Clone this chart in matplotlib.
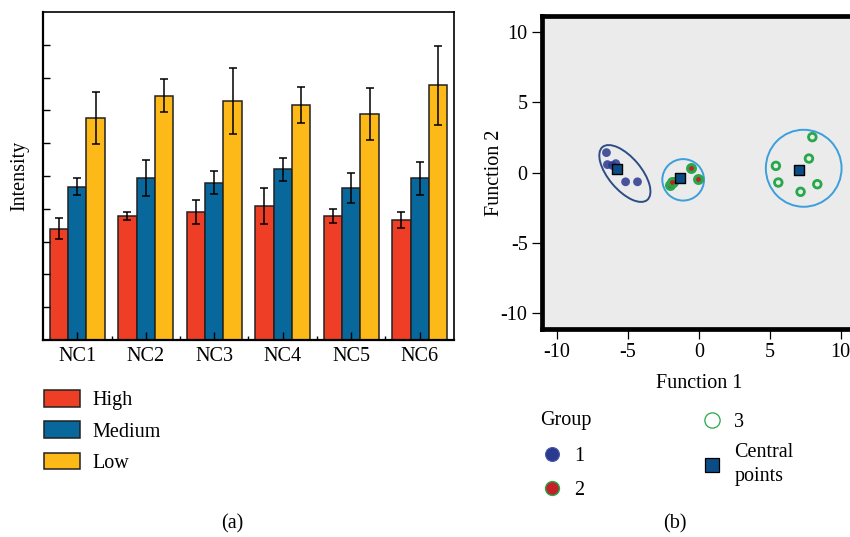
import matplotlib
matplotlib.use("Agg")
import matplotlib.pyplot as plt
import numpy as np
from matplotlib.patches import Ellipse, Patch
from matplotlib.lines import Line2D

plt.rcParams['font.family'] = ['Liberation Serif', 'DejaVu Serif']
plt.rcParams['axes.unicode_minus'] = False

W, H = 850, 537
FS = 14.5

# ---- panel (a) data ----
samples = ["NC1", "NC2", "NC3", "NC4", "NC5", "NC6"]
high = [3.39, 3.78, 3.90, 4.09, 3.78, 3.65]
high_err = [0.32, 0.13, 0.36, 0.55, 0.20, 0.25]
medium = [4.67, 4.94, 4.79, 5.21, 4.63, 4.93]
medium_err = [0.26, 0.55, 0.35, 0.35, 0.45, 0.50]
low = [6.77, 7.45, 7.29, 7.16, 6.89, 7.76]
low_err = [0.80, 0.50, 1.00, 0.55, 0.80, 1.20]

# ---- panel (b) data ----
g1_x = [-6.52, -6.45, -6.10, -5.86, -5.17, -4.33]
g1_y = [1.41, 0.56, 0.50, 0.63, -0.66, -0.66]
g2_x = [-0.56, -0.07, -1.81, -2.05, -1.90]
g2_y = [0.33, -0.45, -0.66, -0.90, -0.70]
g3_x = [8.00, 7.76, 5.43, 5.60, 7.17, 8.35]
g3_y = [2.51, 0.99, 0.47, -0.71, -1.37, -0.83]
cent_x = [-5.76, -1.34, 7.06]
cent_y = [0.28, -0.42, 0.16]

RED = "#ef3e26"
BLUE = "#08679b"
YEL = "#fdb917"
NAVY = "#2a3a8f"
GREEN = "#27a84a"
GRED = "#c4202a"
SQ = "#0c4c86"

fig = plt.figure(figsize=(W / 100, H / 100), dpi=100)


def box(l, t, r, b):
    return [l / W, 1 - b / H, (r - l) / W, (b - t) / H]


# ---------------- (a) bars ----------------
ax = fig.add_axes(box(43, 12, 454, 340))
x = np.arange(len(samples))
bw = 0.27
ekw = dict(ecolor="black", elinewidth=1.1, capsize=3, capthick=1.1)
ax.bar(x - bw, high, bw, yerr=high_err, color=RED, edgecolor="#222222", linewidth=1.1, error_kw=ekw)
ax.bar(x, medium, bw, yerr=medium_err, color=BLUE, edgecolor="#222222", linewidth=1.1, error_kw=ekw)
ax.bar(x + bw, low, bw, yerr=low_err, color=YEL, edgecolor="#222222", linewidth=1.1, error_kw=ekw)
ax.set_xlim(-0.5, 5.5)
ax.set_ylim(0, 10)
ax.set_xticks(x)
ax.set_xticklabels(samples, fontsize=FS)
ax.set_xticks(x[:-1] + 0.5, minor=True)
ax.set_yticks(np.arange(1, 10))
ax.set_yticklabels([])
ax.tick_params(axis="both", direction="in", length=5, width=1, pad=5)
ax.tick_params(axis="x", which="minor", direction="in", length=3, width=1)
ax.tick_params(axis="x", which="major", length=6)
for s in ax.spines.values():
    s.set_linewidth(1.2)
ax.spines["left"].set_linewidth(1.6)
ax.spines["bottom"].set_linewidth(1.6)
ax.set_ylabel("Intensity", fontsize=FS, labelpad=5)

handles = [Patch(facecolor=c, edgecolor="#222222", linewidth=1.1) for c in (RED, BLUE, YEL)]
fig.legend(handles, ["High", "Medium", "Low"], loc="upper left",
           bbox_to_anchor=(44 / W, 1 - 390 / H), frameon=False, fontsize=FS,
           handlelength=1.8, handleheight=0.9, handletextpad=0.6,
           labelspacing=0.55, borderpad=0, borderaxespad=0)

# ---------------- (b) scatter ----------------
bx = fig.add_axes(box(541.5, 16, 856.3, 329))
bx.set_facecolor("#ebebeb")
lim = 11.1
bx.set_xlim(-lim, lim)
bx.set_ylim(-lim, lim)
for s in bx.spines.values():
    s.set_linewidth(3.4)
    s.set_color("black")
bx.set_xticks([-10, -5, 0, 5, 10])
bx.set_yticks([-10, -5, 0, 5, 10])
bx.tick_params(axis="both", direction="out", length=7, width=0.9, labelsize=FS, pad=3)

bx.add_patch(Ellipse((-5.22, -0.07), 4.9, 2.3, angle=-50, fill=False,
                     edgecolor="#2c4d86", linewidth=1.4))
bx.add_patch(Ellipse((-1.11, -0.52), 2.94, 2.94, fill=False,
                     edgecolor="#3a9fdc", linewidth=1.4))
bx.add_patch(Ellipse((7.39, 0.30), 5.34, 5.46, fill=False,
                     edgecolor="#3a9fdc", linewidth=1.4))

bx.scatter(g1_x, g1_y, s=40, color=NAVY, alpha=0.85, edgecolors="none", zorder=3)
bx.scatter(g2_x, g2_y, s=32, color=GRED, edgecolors=GREEN, linewidths=2.2, zorder=3)
bx.scatter(g3_x, g3_y, s=30, facecolors="none", edgecolors=GREEN, linewidths=2.0, zorder=3)
bx.scatter(cent_x, cent_y, s=60, marker="s", color=SQ, edgecolors="black", linewidths=1.0, zorder=4)

bx.set_xlabel("Function 1", fontsize=FS, labelpad=9)
bx.set_ylabel("Function 2", fontsize=FS, labelpad=-2)

fig.text(540 / W, 1 - 421 / H, "Group", fontsize=FS, va="center", ha="left")
h1 = Line2D([], [], linestyle="none", marker="o", markersize=10,
            markerfacecolor=NAVY, markeredgecolor="#4a5aa8", markeredgewidth=0.8)
h2 = Line2D([], [], linestyle="none", marker="o", markersize=10,
            markerfacecolor=GRED, markeredgecolor=GREEN, markeredgewidth=1.0)
fig.legend([h1, h2], ["1", "2"], loc="upper left",
           bbox_to_anchor=(542 / W, 1 - 447 / H), frameon=False, fontsize=FS,
           handlelength=1.0, handletextpad=0.6, labelspacing=0.75,
           borderpad=0, borderaxespad=0)
h3 = Line2D([], [], linestyle="none", marker="o", markersize=11,
            markerfacecolor="none", markeredgecolor=GREEN, markeredgewidth=0.9)
h4 = Line2D([], [], linestyle="none", marker="s", markersize=10,
            markerfacecolor=SQ, markeredgecolor="black", markeredgewidth=0.9)
leg = fig.legend([h3, h4], ["3", "Central\npoints"], loc="upper left",
                 bbox_to_anchor=(702 / W, 1 - 413 / H), frameon=False, fontsize=FS,
                 handlelength=1.0, handletextpad=0.6, labelspacing=0.55,
                 borderpad=0, borderaxespad=0)
leg.get_texts()[1].set_linespacing(1.35)

fig.text(232 / W, 1 - 524 / H, "(a)", fontsize=FS, ha="center", va="center")
fig.text(675 / W, 1 - 524 / H, "(b)", fontsize=FS, ha="center", va="center")

fig.savefig("out.png", dpi=100)
